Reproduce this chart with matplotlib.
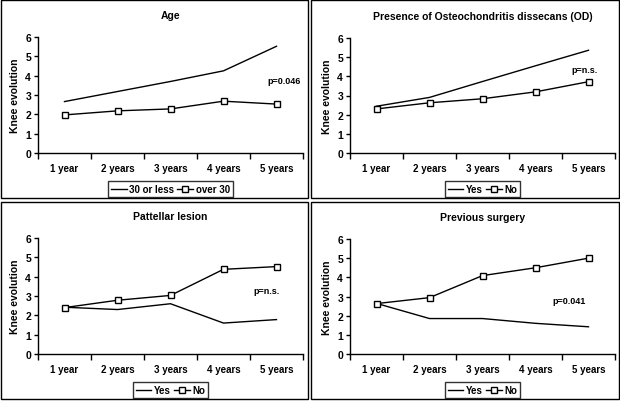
import matplotlib
matplotlib.use("Agg")
import matplotlib.pyplot as plt
from matplotlib.patches import Rectangle

# --------------------------------------------------
# Data
# --------------------------------------------------
years = ['1 year', '2 years', '3 years', '4 years', '5 years']

age_30_or_less = [2.66, 3.18, 3.70, 4.25, 5.52]
age_over_30 = [1.97, 2.18, 2.28, 2.68, 2.53]

od_yes = [2.44, 2.90, 3.73, 4.55, 5.36]
od_no = [2.30, 2.62, 2.83, 3.19, 3.72]

pat_yes = [2.42, 2.30, 2.60, 1.60, 1.78]
pat_no = [2.40, 2.78, 3.03, 4.38, 4.52]

surg_yes = [2.64, 1.85, 1.85, 1.60, 1.42]
surg_no = [2.63, 2.94, 4.09, 4.50, 5.00]

titles = ['Age', 'Presence of Osteochondritis dissecans (OD)',
          'Pattellar lesion', 'Previous surgery']
legend_labels = [('30 or less', 'over 30'), ('Yes', 'No'),
                 ('Yes', 'No'), ('Yes', 'No')]
p_texts = ['p=0.046', 'p=n.s.', 'p=n.s.', 'p=0.041']

# --------------------------------------------------
# Figure layout (pixels of a 620x402 canvas)
# --------------------------------------------------
W, H = 620, 402
plt.rcParams['font.family'] = ['Liberation Sans', 'DejaVu Sans']
plt.rcParams['font.weight'] = 'bold'
plt.rcParams['axes.titleweight'] = 'bold'
plt.rcParams['axes.labelweight'] = 'bold'
fig = plt.figure(figsize=(W / 100, H / 100), dpi=100)

# left, top, right, bottom of each plot area
ax_px = [(38, 38, 303, 154), (350, 39, 615, 154),
         (38, 239, 303, 355), (350, 240, 615, 355)]
# panel frames
frames = [(1, 1, 308, 199), (311, 1, 619, 199),
          (1, 203, 308, 400), (311, 203, 619, 400)]
# p-value positions (x index, y value)
p_pos = [(3.82, 3.75), (3.67, 4.35), (3.56, 3.29), (3.31, 2.77)]

series = [(age_30_or_less, age_over_30), (od_yes, od_no),
          (pat_yes, pat_no), (surg_yes, surg_no)]

for fr in frames:
    x0, y0, x1, y1 = fr
    fig.patches.append(Rectangle((x0 / W, 1 - y1 / H), (x1 - x0) / W,
                                 (y1 - y0) / H, transform=fig.transFigure,
                                 fill=False, edgecolor='black', linewidth=1.0))

xs = list(range(len(years)))
for i in range(4):
    l, t, r, b = ax_px[i]
    ax = fig.add_axes([l / W, 1 - b / H, (r - l) / W, (b - t) / H])
    s1, s2 = series[i]
    ax.plot(xs, s1, color='black', linewidth=1.0, label=legend_labels[i][0])
    ax.plot(xs, s2, color='black', linewidth=1.0, marker='s', markersize=4.5,
            markerfacecolor='white', markeredgecolor='black',
            markeredgewidth=1.0, label=legend_labels[i][1])
    ax.set_xlim(-0.5, 4.5)
    ax.set_ylim(0, 6)
    ax.set_yticks(range(0, 7))
    ax.set_xticks(xs)
    ax.set_xticklabels(years)
    ax.set_xticks([x + 0.5 for x in [-1] + xs], minor=True)
    ax.tick_params(axis='x', which='major', length=0, pad=7, labelsize=7)
    ax.tick_params(axis='x', which='minor', length=4, width=1, direction='out')
    ax.tick_params(axis='y', length=3, width=1, labelsize=7.5, pad=2)
    for side in ['top', 'right']:
        ax.spines[side].set_visible(False)
    for side in ['left', 'bottom']:
        ax.spines[side].set_linewidth(1.0)
    ax.set_ylabel('Knee evolution', fontsize=7.5, labelpad=4)
    ax.set_title(titles[i], fontsize=7.5, pad=14)
    ax.text(p_pos[i][0], p_pos[i][1], p_texts[i], fontsize=6.5,
            ha='left', va='center')
    leg = ax.legend(loc='upper center', bbox_to_anchor=(0.5, -0.245), ncol=2,
                    fontsize=7, frameon=True, fancybox=False,
                    edgecolor='black', handlelength=1.6, handletextpad=0.3,
                    columnspacing=0.3, borderpad=0.3, borderaxespad=0)
    leg.get_frame().set_linewidth(1.0)

fig.savefig('out.png', dpi=100)
